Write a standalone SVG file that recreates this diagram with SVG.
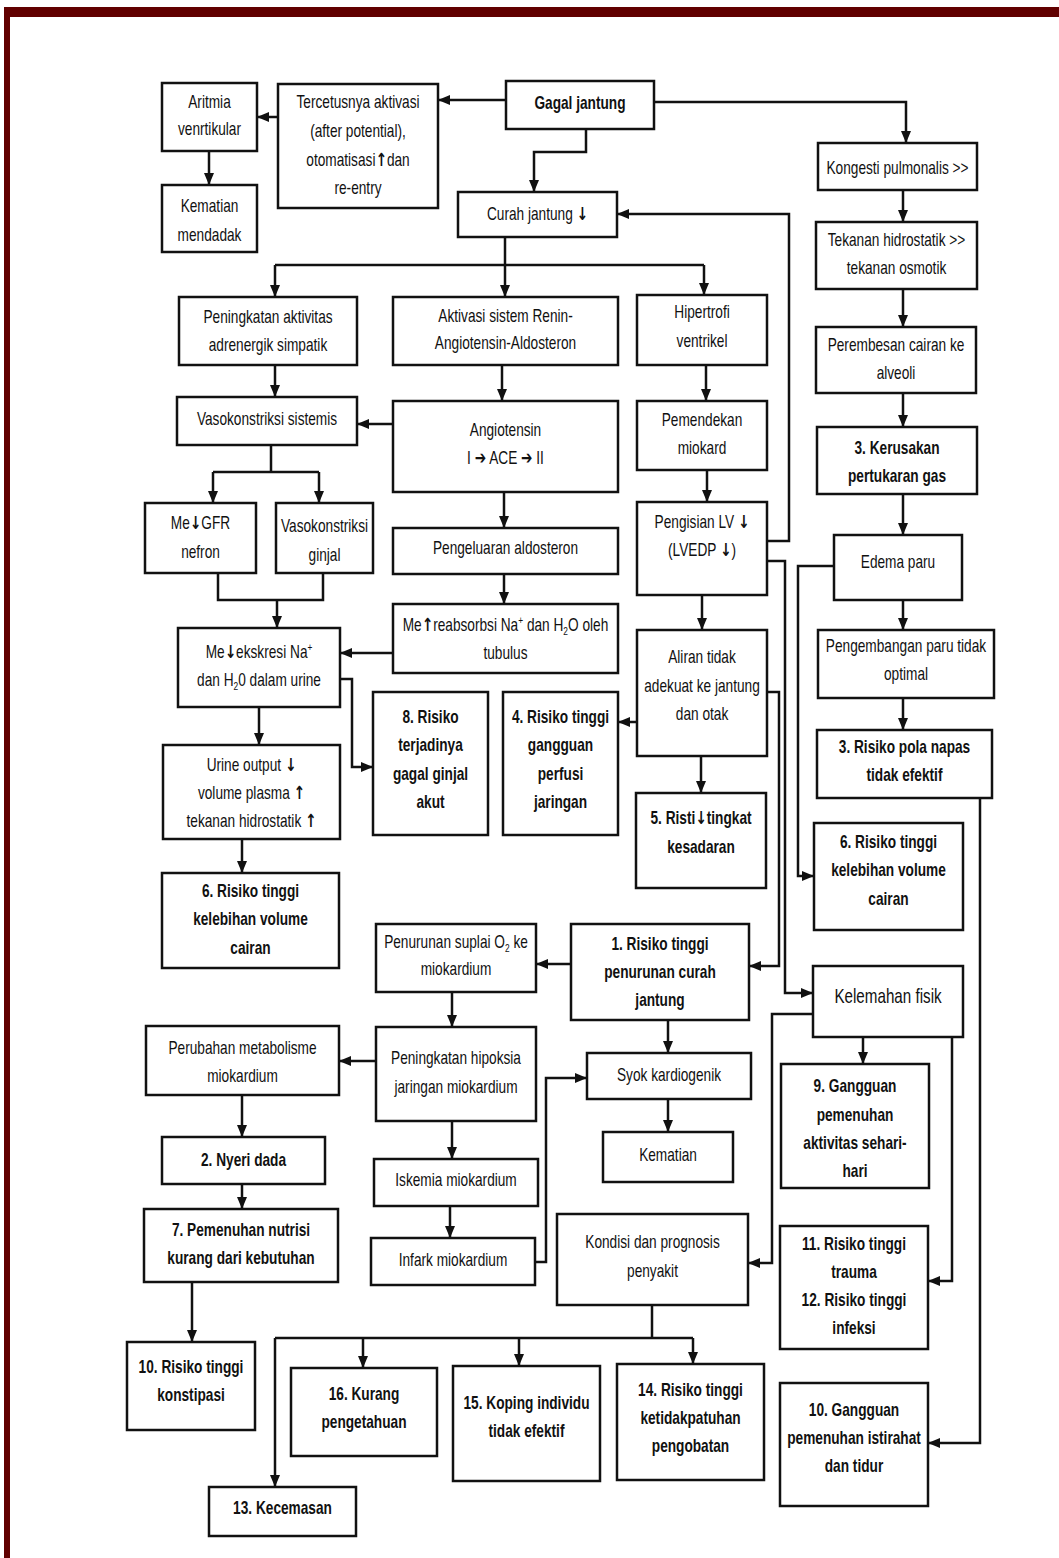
<svg xmlns="http://www.w3.org/2000/svg" width="1059" height="1558" viewBox="0 0 1059 1558">
<style>
.box{fill:#fff;stroke:#111;stroke-width:2.5}
.t{font-family:"Liberation Sans",Arial,sans-serif;font-size:18px;fill:#111;text-anchor:middle}
.b{font-weight:bold}
.ar{font-family:"DejaVu Sans",sans-serif;font-weight:bold;font-size:18px}
.c{fill:none;stroke:#111;stroke-width:2.5}
.a{marker-end:url(#ah)}
.sub{font-size:11px}
</style>
<defs>
<marker id="ah" viewBox="0 0 12 10" refX="12" refY="5" markerWidth="12" markerHeight="10" markerUnits="userSpaceOnUse" orient="auto"><path d="M0,0 L12,5 L0,10 z" fill="#111"/></marker>
</defs>
<rect x="0" y="0" width="1059" height="1558" fill="#fff"/>
<rect x="4" y="7" width="1055" height="10" fill="#610000"/>
<rect x="4" y="7" width="6" height="1551" fill="#610000"/>

<g id="connectors">
<path class="c a" d="M506,100 H438"/>
<path class="c a" d="M586,129 V152 H534 V192"/>
<path class="c a" d="M654,102 H906 V143"/>
<path class="c a" d="M278,117 H257"/>
<path class="c a" d="M209,151 V185"/>
<path class="c a" d="M505,237 V297"/>
<path class="c" d="M275,265 H704"/>
<path class="c a" d="M275,265 V297"/>
<path class="c a" d="M704,265 V295"/>
<path class="c a" d="M903,190 V222"/>
<path class="c a" d="M903,289 V327"/>
<path class="c a" d="M903,393 V427"/>
<path class="c a" d="M903,494 V535"/>
<path class="c a" d="M903,600 V630"/>
<path class="c a" d="M903,698 V730"/>
<path class="c a" d="M275,365 V397"/>
<path class="c a" d="M502,365 V401"/>
<path class="c a" d="M393,424 H357"/>
<path class="c" d="M271,445 V472 M213,472 H319"/>
<path class="c a" d="M213,472 V503"/>
<path class="c a" d="M319,472 V503"/>
<path class="c a" d="M504,492 V528"/>
<path class="c a" d="M504,574 V604"/>
<path class="c" d="M218,573 V600 H323 V573"/>
<path class="c a" d="M277,600 V628"/>
<path class="c a" d="M393,653 H340"/>
<path class="c a" d="M340,679 H352 V767 H373"/>
<path class="c a" d="M259,707 V745"/>
<path class="c a" d="M242,839 V873"/>
<path class="c a" d="M706,365 V401"/>
<path class="c a" d="M707,470 V502"/>
<path class="c a" d="M767,541 H789 V214 H617"/>
<path class="c a" d="M702,595 V630"/>
<path class="c a" d="M637,722 H618"/>
<path class="c a" d="M701,756 V793"/>
<path class="c a" d="M767,692 H779 V966 H749"/>
<path class="c a" d="M767,561 H785 V993 H813"/>
<path class="c a" d="M834,566 H798 V876 H814"/>
<path class="c a" d="M980,798 V1443 H928"/>
<path class="c a" d="M571,964 H536"/>
<path class="c a" d="M668,1020 V1053"/>
<path class="c a" d="M668,1099 V1132"/>
<path class="c a" d="M452,992 V1027"/>
<path class="c a" d="M376,1061 H339"/>
<path class="c a" d="M242,1095 V1137"/>
<path class="c a" d="M242,1184 V1209"/>
<path class="c a" d="M192,1282 V1342"/>
<path class="c a" d="M452,1121 V1159"/>
<path class="c a" d="M450,1206 V1238"/>
<path class="c a" d="M535,1262 H546 V1078 H587"/>
<path class="c a" d="M863,1037 V1064"/>
<path class="c a" d="M813,1014 H772 V1263 H748"/>
<path class="c a" d="M952,1037 V1281 H928"/>
<path class="c" d="M652,1305 V1338 M275,1338 H693"/>
<path class="c a" d="M275,1338 V1487"/>
<path class="c a" d="M363,1338 V1368"/>
<path class="c a" d="M519,1338 V1366"/>
<path class="c a" d="M693,1338 V1364"/>
</g>

<g id="n_aritmia"><rect class="box" x="162" y="83" width="95" height="68"/><text class="t" transform="translate(209.5 0) scale(0.76 1)"><tspan x="0" y="108">Aritmia</tspan><tspan x="0" y="135">venrtikular</tspan></text></g>
<g id="n_kematian_mendadak"><rect class="box" x="162" y="185" width="95" height="67"/><text class="t" transform="translate(209.5 0) scale(0.76 1)"><tspan x="0" y="212">Kematian</tspan><tspan x="0" y="241">mendadak</tspan></text></g>
<g id="n_tercetus"><rect class="box" x="278" y="84" width="160" height="124"/><text class="t" transform="translate(358 0) scale(0.76 1)"><tspan x="0" y="108">Tercetusnya aktivasi</tspan><tspan x="0" y="137">(after potential),</tspan><tspan x="0" y="166">otomatisasi<tspan class="ar">↑</tspan>dan</tspan><tspan x="0" y="194">re-entry</tspan></text></g>
<g id="n_gagal"><rect class="box" x="506" y="81" width="148" height="48"/><text class="t b" transform="translate(580 0) scale(0.76 1)"><tspan x="0" y="109">Gagal jantung</tspan></text></g>
<g id="n_kongesti"><rect class="box" x="818" y="143" width="159" height="47"/><text class="t" transform="translate(897.5 0) scale(0.76 1)"><tspan x="0" y="174">Kongesti pulmonalis &gt;&gt;</tspan></text></g>
<g id="n_curah"><rect class="box" x="458" y="192" width="159" height="45"/><text class="t" transform="translate(537.5 0) scale(0.76 1)"><tspan x="0" y="220">Curah jantung <tspan class="ar">↓</tspan></tspan></text></g>
<g id="n_tekanan"><rect class="box" x="816" y="222" width="161" height="67"/><text class="t" transform="translate(896.5 0) scale(0.76 1)"><tspan x="0" y="246">Tekanan hidrostatik &gt;&gt;</tspan><tspan x="0" y="274">tekanan osmotik</tspan></text></g>
<g id="n_peningkatan"><rect class="box" x="179" y="297" width="178" height="68"/><text class="t" transform="translate(268 0) scale(0.76 1)"><tspan x="0" y="323">Peningkatan aktivitas</tspan><tspan x="0" y="351">adrenergik simpatik</tspan></text></g>
<g id="n_raa"><rect class="box" x="393" y="297" width="225" height="68"/><text class="t" transform="translate(505.5 0) scale(0.76 1)"><tspan x="0" y="322">Aktivasi sistem Renin-</tspan><tspan x="0" y="349">Angiotensin-Aldosteron</tspan></text></g>
<g id="n_hipertrofi"><rect class="box" x="637" y="295" width="130" height="70"/><text class="t" transform="translate(702 0) scale(0.76 1)"><tspan x="0" y="318">Hipertrofi</tspan><tspan x="0" y="347">ventrikel</tspan></text></g>
<g id="n_perembesan"><rect class="box" x="816" y="327" width="160" height="66"/><text class="t" transform="translate(896 0) scale(0.76 1)"><tspan x="0" y="351">Perembesan cairan ke</tspan><tspan x="0" y="379">alveoli</tspan></text></g>
<g id="n_vaso_sis"><rect class="box" x="177" y="397" width="180" height="48"/><text class="t" transform="translate(267 0) scale(0.76 1)"><tspan x="0" y="425">Vasokonstriksi sistemis</tspan></text></g>
<g id="n_angiotensin"><rect class="box" x="393" y="401" width="225" height="91"/><text class="t" transform="translate(505.5 0) scale(0.76 1)"><tspan x="0" y="436">Angiotensin</tspan><tspan x="0" y="464">I <tspan class="ar">➔</tspan> ACE <tspan class="ar">➔</tspan> II</tspan></text></g>
<g id="n_pemendekan"><rect class="box" x="637" y="401" width="130" height="69"/><text class="t" transform="translate(702 0) scale(0.76 1)"><tspan x="0" y="426">Pemendekan</tspan><tspan x="0" y="454">miokard</tspan></text></g>
<g id="n_kerusakan"><rect class="box" x="817" y="427" width="160" height="67"/><text class="t b" transform="translate(897 0) scale(0.76 1)"><tspan x="0" y="454">3. Kerusakan</tspan><tspan x="0" y="482">pertukaran gas</tspan></text></g>
<g id="n_gfr"><rect class="box" x="145" y="503" width="111" height="70"/><text class="t" transform="translate(200.5 0) scale(0.76 1)"><tspan x="0" y="529">Me<tspan class="ar">↓</tspan>GFR</tspan><tspan x="0" y="558">nefron</tspan></text></g>
<g id="n_vaso_ginjal"><rect class="box" x="276" y="503" width="97" height="70"/><text class="t" transform="translate(324.5 0) scale(0.76 1)"><tspan x="0" y="532">Vasokonstriksi</tspan><tspan x="0" y="561">ginjal</tspan></text></g>
<g id="n_aldosteron"><rect class="box" x="393" y="528" width="225" height="46"/><text class="t" transform="translate(505.5 0) scale(0.76 1)"><tspan x="0" y="554">Pengeluaran aldosteron</tspan></text></g>
<g id="n_pengisian"><rect class="box" x="637" y="502" width="130" height="93"/><text class="t" transform="translate(702 0) scale(0.76 1)"><tspan x="0" y="528">Pengisian LV  <tspan class="ar">↓</tspan></tspan><tspan x="0" y="556">(LVEDP <tspan class="ar">↓</tspan>)</tspan></text></g>
<g id="n_edema"><rect class="box" x="834" y="535" width="128" height="65"/><text class="t" transform="translate(898 0) scale(0.76 1)"><tspan x="0" y="568">Edema paru</tspan></text></g>
<g id="n_reabsorbsi"><rect class="box" x="393" y="604" width="225" height="69"/><text class="t" transform="translate(505.5 0) scale(0.76 1)"><tspan x="0" y="631">Me<tspan class="ar">↑</tspan>reabsorbsi Na<tspan class="sub" dy="-7">+</tspan><tspan dy="7"> dan H</tspan><tspan class="sub" dy="4">2</tspan><tspan dy="-4">O oleh</tspan></tspan><tspan x="0" y="659">tubulus</tspan></text></g>
<g id="n_ekskresi"><rect class="box" x="178" y="628" width="162" height="79"/><text class="t" transform="translate(259 0) scale(0.76 1)"><tspan x="0" y="658">Me<tspan class="ar">↓</tspan>ekskresi Na<tspan class="sub" dy="-7">+</tspan></tspan><tspan x="0" y="686">dan H<tspan class="sub" dy="4">2</tspan><tspan dy="-4">0 dalam urine</tspan></tspan></text></g>
<g id="n_aliran"><rect class="box" x="637" y="630" width="130" height="126"/><text class="t" transform="translate(702 0) scale(0.76 1)"><tspan x="0" y="663">Aliran tidak</tspan><tspan x="0" y="692">adekuat ke jantung</tspan><tspan x="0" y="720">dan otak</tspan></text></g>
<g id="n_pengembangan"><rect class="box" x="818" y="630" width="176" height="68"/><text class="t" transform="translate(906 0) scale(0.76 1)"><tspan x="0" y="652">Pengembangan paru tidak</tspan><tspan x="0" y="680">optimal</tspan></text></g>
<g id="n_risiko8"><rect class="box" x="373" y="692" width="115" height="143"/><text class="t b" transform="translate(430.5 0) scale(0.76 1)"><tspan x="0" y="723">8. Risiko</tspan><tspan x="0" y="751">terjadinya</tspan><tspan x="0" y="780">gagal ginjal</tspan><tspan x="0" y="808">akut</tspan></text></g>
<g id="n_risiko4"><rect class="box" x="503" y="692" width="115" height="143"/><text class="t b" transform="translate(560.5 0) scale(0.76 1)"><tspan x="0" y="723">4. Risiko tinggi</tspan><tspan x="0" y="751">gangguan</tspan><tspan x="0" y="780">perfusi</tspan><tspan x="0" y="808">jaringan</tspan></text></g>
<g id="n_urine"><rect class="box" x="163" y="745" width="177" height="94"/><text class="t" transform="translate(251.5 0) scale(0.76 1)"><tspan x="0" y="771">Urine output <tspan class="ar">↓</tspan></tspan><tspan x="0" y="799">volume plasma <tspan class="ar">↑</tspan></tspan><tspan x="0" y="827">tekanan hidrostatik <tspan class="ar">↑</tspan></tspan></text></g>
<g id="n_pola"><rect class="box" x="817" y="730" width="175" height="68"/><text class="t b" transform="translate(904.5 0) scale(0.76 1)"><tspan x="0" y="753">3. Risiko pola napas</tspan><tspan x="0" y="781">tidak efektif</tspan></text></g>
<g id="n_risti5"><rect class="box" x="636" y="793" width="130" height="95"/><text class="t b" transform="translate(701 0) scale(0.76 1)"><tspan x="0" y="824">5. Risti<tspan class="ar">↓</tspan>tingkat</tspan><tspan x="0" y="853">kesadaran</tspan></text></g>
<g id="n_risiko6r"><rect class="box" x="814" y="823" width="149" height="107"/><text class="t b" transform="translate(888.5 0) scale(0.76 1)"><tspan x="0" y="848">6. Risiko tinggi</tspan><tspan x="0" y="876">kelebihan volume</tspan><tspan x="0" y="905">cairan</tspan></text></g>
<g id="n_risiko6l"><rect class="box" x="162" y="873" width="177" height="95"/><text class="t b" transform="translate(250.5 0) scale(0.76 1)"><tspan x="0" y="897">6. Risiko tinggi</tspan><tspan x="0" y="925">kelebihan volume</tspan><tspan x="0" y="954">cairan</tspan></text></g>
<g id="n_suplai"><rect class="box" x="376" y="924" width="160" height="68"/><text class="t" transform="translate(456 0) scale(0.76 1)"><tspan x="0" y="948">Penurunan suplai O<tspan class="sub" dy="4">2</tspan><tspan dy="-4"> ke</tspan></tspan><tspan x="0" y="975">miokardium</tspan></text></g>
<g id="n_risiko1"><rect class="box" x="571" y="924" width="178" height="96"/><text class="t b" transform="translate(660 0) scale(0.76 1)"><tspan x="0" y="950">1. Risiko tinggi</tspan><tspan x="0" y="978">penurunan curah</tspan><tspan x="0" y="1006">jantung</tspan></text></g>
<g id="n_kelemahan"><rect class="box" x="813" y="966" width="150" height="71"/><text class="t" style="font-size:20px" transform="translate(888 0) scale(0.76 1)"><tspan x="0" y="1003">Kelemahan fisik</tspan></text></g>
<g id="n_perubahan"><rect class="box" x="146" y="1026" width="193" height="69"/><text class="t" transform="translate(242.5 0) scale(0.76 1)"><tspan x="0" y="1054">Perubahan metabolisme</tspan><tspan x="0" y="1082">miokardium</tspan></text></g>
<g id="n_hipoksia"><rect class="box" x="376" y="1027" width="160" height="94"/><text class="t" transform="translate(456 0) scale(0.76 1)"><tspan x="0" y="1064">Peningkatan hipoksia</tspan><tspan x="0" y="1093">jaringan miokardium</tspan></text></g>
<g id="n_syok"><rect class="box" x="587" y="1053" width="164" height="46"/><text class="t" transform="translate(669 0) scale(0.76 1)"><tspan x="0" y="1081">Syok kardiogenik</tspan></text></g>
<g id="n_gangguan9"><rect class="box" x="781" y="1064" width="148" height="124"/><text class="t b" transform="translate(855 0) scale(0.76 1)"><tspan x="0" y="1092">9. Gangguan</tspan><tspan x="0" y="1121">pemenuhan</tspan><tspan x="0" y="1149">aktivitas sehari-</tspan><tspan x="0" y="1177">hari</tspan></text></g>
<g id="n_nyeri"><rect class="box" x="162" y="1137" width="163" height="47"/><text class="t b" transform="translate(243.5 0) scale(0.76 1)"><tspan x="0" y="1166">2. Nyeri dada</tspan></text></g>
<g id="n_kematian"><rect class="box" x="603" y="1132" width="130" height="50"/><text class="t" transform="translate(668 0) scale(0.76 1)"><tspan x="0" y="1161">Kematian</tspan></text></g>
<g id="n_iskemia"><rect class="box" x="374" y="1159" width="164" height="47"/><text class="t" transform="translate(456 0) scale(0.76 1)"><tspan x="0" y="1186">Iskemia miokardium</tspan></text></g>
<g id="n_nutrisi"><rect class="box" x="144" y="1209" width="194" height="73"/><text class="t b" transform="translate(241 0) scale(0.76 1)"><tspan x="0" y="1236">7. Pemenuhan nutrisi</tspan><tspan x="0" y="1264">kurang dari kebutuhan</tspan></text></g>
<g id="n_infark"><rect class="box" x="371" y="1238" width="164" height="47"/><text class="t" transform="translate(453 0) scale(0.76 1)"><tspan x="0" y="1266">Infark miokardium</tspan></text></g>
<g id="n_kondisi"><rect class="box" x="557" y="1214" width="191" height="91"/><text class="t" transform="translate(652.5 0) scale(0.76 1)"><tspan x="0" y="1248">Kondisi dan prognosis</tspan><tspan x="0" y="1277">penyakit</tspan></text></g>
<g id="n_trauma"><rect class="box" x="780" y="1226" width="148" height="123"/><text class="t b" transform="translate(854 0) scale(0.76 1)"><tspan x="0" y="1250">11. Risiko tinggi</tspan><tspan x="0" y="1278">trauma</tspan><tspan x="0" y="1306">12. Risiko tinggi</tspan><tspan x="0" y="1334">infeksi</tspan></text></g>
<g id="n_konstipasi"><rect class="box" x="127" y="1342" width="128" height="88"/><text class="t b" transform="translate(191 0) scale(0.76 1)"><tspan x="0" y="1373">10. Risiko tinggi</tspan><tspan x="0" y="1401">konstipasi</tspan></text></g>
<g id="n_pengetahuan"><rect class="box" x="291" y="1368" width="146" height="88"/><text class="t b" transform="translate(364 0) scale(0.76 1)"><tspan x="0" y="1400">16. Kurang</tspan><tspan x="0" y="1428">pengetahuan</tspan></text></g>
<g id="n_koping"><rect class="box" x="453" y="1366" width="147" height="115"/><text class="t b" transform="translate(526.5 0) scale(0.76 1)"><tspan x="0" y="1409">15. Koping individu</tspan><tspan x="0" y="1437">tidak efektif</tspan></text></g>
<g id="n_patuh"><rect class="box" x="617" y="1364" width="147" height="116"/><text class="t b" transform="translate(690.5 0) scale(0.76 1)"><tspan x="0" y="1396">14. Risiko tinggi</tspan><tspan x="0" y="1424">ketidakpatuhan</tspan><tspan x="0" y="1452">pengobatan</tspan></text></g>
<g id="n_istirahat"><rect class="box" x="780" y="1383" width="148" height="123"/><text class="t b" transform="translate(854 0) scale(0.76 1)"><tspan x="0" y="1416">10. Gangguan</tspan><tspan x="0" y="1444">pemenuhan istirahat</tspan><tspan x="0" y="1472">dan tidur</tspan></text></g>
<g id="n_kecemasan"><rect class="box" x="209" y="1487" width="147" height="49"/><text class="t b" transform="translate(282.5 0) scale(0.76 1)"><tspan x="0" y="1514">13. Kecemasan</tspan></text></g>
</svg>
